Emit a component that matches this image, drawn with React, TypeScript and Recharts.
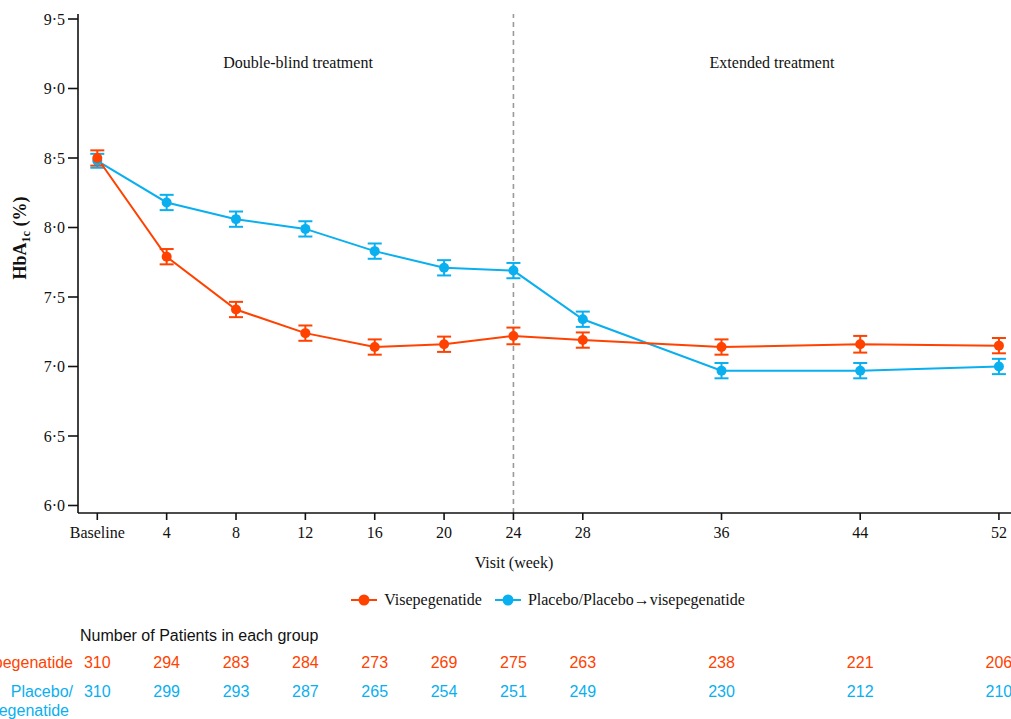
import React from 'react';
import { LineChart, Line, XAxis, YAxis, ErrorBar, ReferenceLine, Legend } from 'recharts';

const weeks = [0, 4, 8, 12, 16, 20, 24, 28, 36, 44, 52];
const visMean = [8.5, 7.79, 7.41, 7.24, 7.14, 7.16, 7.22, 7.19, 7.14, 7.16, 7.15];
const visSE = [0.055, 0.055, 0.055, 0.055, 0.055, 0.055, 0.06, 0.055, 0.055, 0.06, 0.055];
const plaMean = [8.48, 8.18, 8.06, 7.99, 7.83, 7.71, 7.69, 7.34, 6.97, 6.97, 7.0];
const plaSE = [0.05, 0.055, 0.055, 0.055, 0.055, 0.055, 0.055, 0.055, 0.055, 0.055, 0.055];
const visN = [310, 294, 283, 284, 273, 269, 275, 263, 238, 221, 206];
const plaN = [310, 299, 293, 287, 265, 254, 251, 249, 230, 212, 210];
const yTicks = [6, 6.5, 7, 7.5, 8, 8.5, 9, 9.5];
const visName = 'Visepegenatide';
const plaName = 'Placebo/Placebo→visepegenatide';
const phaseLabels = ['Double-blind treatment', 'Extended treatment'];
const tableTitle = 'Number of Patients in each group';
const visRowLabel = 'Visepegenatide';
const plaRowLabel = ['Placebo/', 'Placebo→visepegenatide'];

const RED = '#FF4200';
const BLUE = '#0AAFEF';
const SERIF = '"Liberation Serif", "Times New Roman", serif';
const SANS = '"Liberation Sans", Arial, sans-serif';

const data = weeks.map((w, i) => ({
  week: w,
  vis: visMean[i],
  visErr: visSE[i],
  pla: plaMean[i],
  plaErr: plaSE[i],
  visN: visN[i],
  plaN: plaN[i],
}));

const X_DOMAIN: [number, number] = [-1.113, 53.1];
const Y_DOMAIN: [number, number] = [5.946, 9.536];

const fmtY = (v: number) => v.toFixed(1).replace('.', '·');
const fmtX = (v: number) => (v === 0 ? 'Baseline' : String(v));

const makeCountTick = (key: 'visN' | 'plaN', color: string) => (props: any) => {
  const { x, y, payload } = props;
  const row = data.find((d) => d.week === payload.value);
  return (
    <text x={x} y={y + 15} textAnchor="middle" fontFamily={SANS} fontSize={16} fill={color}>
      {row ? row[key] : ''}
    </text>
  );
};

const legendItems = [
  { name: visName, color: RED },
  { name: plaName, color: BLUE },
];

const LegendContent = () => (
  <div style={{ display: 'flex', justifyContent: 'center', alignItems: 'center', height: 20, fontFamily: SERIF, fontSize: 16, color: '#111' }}>
    {legendItems.map((it, i) => (
      <div key={it.name} style={{ display: 'flex', alignItems: 'center', marginLeft: i === 0 ? 0 : 13 }}>
        <svg width={26} height={14} style={{ display: 'block' }}>
          <line x1={0} y1={7} x2={26} y2={7} stroke={it.color} strokeWidth={2} />
          <circle cx={13} cy={7} r={5.5} fill={it.color} />
        </svg>
        <span style={{ marginLeft: 7, lineHeight: '20px' }}>{it.name}</span>
      </div>
    ))}
  </div>
);

export default function App() {
  return (
    <div style={{ position: 'absolute', left: 0, top: 0, width: 1011, height: 719, overflow: 'hidden', background: '#fff' }}>
      <LineChart width={1040} height={719} data={data} margin={{ top: 14, right: 22, bottom: 8, left: 0 }}>
        <XAxis
          xAxisId="top"
          orientation="top"
          type="number"
          dataKey="week"
          domain={X_DOMAIN}
          allowDataOverflow
          height={0}
          tick={false}
          tickLine={false}
          axisLine={{ stroke: '#111', strokeWidth: 1.6 }}
        />
        <XAxis
          xAxisId="main"
          type="number"
          dataKey="week"
          domain={X_DOMAIN}
          allowDataOverflow
          ticks={weeks}
          interval={0}
          tickFormatter={fmtX}
          height={140}
          tickSize={7}
          tickMargin={7}
          axisLine={{ stroke: '#111', strokeWidth: 1.6 }}
          tickLine={{ stroke: '#111', strokeWidth: 1.6 }}
          tick={{ fontFamily: SERIF, fontSize: 16, fill: '#111' }}
        />
        <XAxis
          xAxisId="n1"
          type="number"
          dataKey="week"
          domain={X_DOMAIN}
          allowDataOverflow
          ticks={weeks}
          interval={0}
          height={29}
          tickSize={0}
          tickMargin={0}
          axisLine={false}
          tickLine={false}
          tick={makeCountTick('visN', RED)}
        />
        <XAxis
          xAxisId="n2"
          type="number"
          dataKey="week"
          domain={X_DOMAIN}
          allowDataOverflow
          ticks={weeks}
          interval={0}
          height={29}
          tickSize={0}
          tickMargin={0}
          axisLine={false}
          tickLine={false}
          tick={makeCountTick('plaN', BLUE)}
        />
        <YAxis
          type="number"
          domain={Y_DOMAIN}
          allowDataOverflow
          ticks={yTicks}
          interval={0}
          tickFormatter={fmtY}
          width={78}
          tickSize={10}
          tickMargin={3}
          axisLine={{ stroke: '#111', strokeWidth: 1.6 }}
          tickLine={{ stroke: '#111', strokeWidth: 1.6 }}
          tick={{ fontFamily: SERIF, fontSize: 16, fill: '#111' }}
        />
        <ReferenceLine xAxisId="main" x={24} stroke="#9a9a9a" strokeWidth={1.6} strokeDasharray="5 4" />
        <Line
          xAxisId="main"
          name={plaName}
          dataKey="pla"
          type="linear"
          stroke={BLUE}
          strokeWidth={2}
          dot={{ r: 5, fill: BLUE, stroke: BLUE, strokeWidth: 0 }}
          activeDot={false}
          isAnimationActive={false}
        >
          <ErrorBar dataKey="plaErr" direction="y" width={7} stroke={BLUE} strokeWidth={2} isAnimationActive={false} />
        </Line>
        <Line
          xAxisId="main"
          name={visName}
          dataKey="vis"
          type="linear"
          stroke={RED}
          strokeWidth={2}
          dot={{ r: 5, fill: RED, stroke: RED, strokeWidth: 0 }}
          activeDot={false}
          isAnimationActive={false}
        >
          <ErrorBar dataKey="visErr" direction="y" width={7} stroke={RED} strokeWidth={2} isAnimationActive={false} />
        </Line>
        <Legend
          verticalAlign="middle"
          align="center"
          layout="horizontal"
          content={LegendContent}
          wrapperStyle={{ left: 78, top: 590, width: 940, height: 20 }}
        />
        <text x={298} y={68} textAnchor="middle" fontFamily={SERIF} fontSize={16} fill="#111">{phaseLabels[0]}</text>
        <text x={772} y={68} textAnchor="middle" fontFamily={SERIF} fontSize={16} fill="#111">{phaseLabels[1]}</text>
        <text x={514} y={568} textAnchor="middle" fontFamily={SERIF} fontSize={16} fill="#111">Visit (week)</text>
        <text x={26} y={238} transform="rotate(-90 26 238)" textAnchor="middle" fontFamily={SERIF} fontWeight="bold" fontSize={18} fill="#111">
          HbA<tspan fontSize={12} dy={4}>1c</tspan><tspan dy={-4}> (%)</tspan>
        </text>
        <text x={80} y={641} fontFamily={SANS} fontSize={16} fill="#111">{tableTitle}</text>
        <text x={73} y={668} textAnchor="end" fontFamily={SANS} fontSize={16} fill={RED}>{visRowLabel}</text>
        <text x={73} y={697} textAnchor="end" fontFamily={SANS} fontSize={16} fill={BLUE}>{plaRowLabel[0]}</text>
        <text x={69} y={716} textAnchor="end" fontFamily={SANS} fontSize={16} fill={BLUE}>{plaRowLabel[1]}</text>
      </LineChart>
    </div>
  );
}
